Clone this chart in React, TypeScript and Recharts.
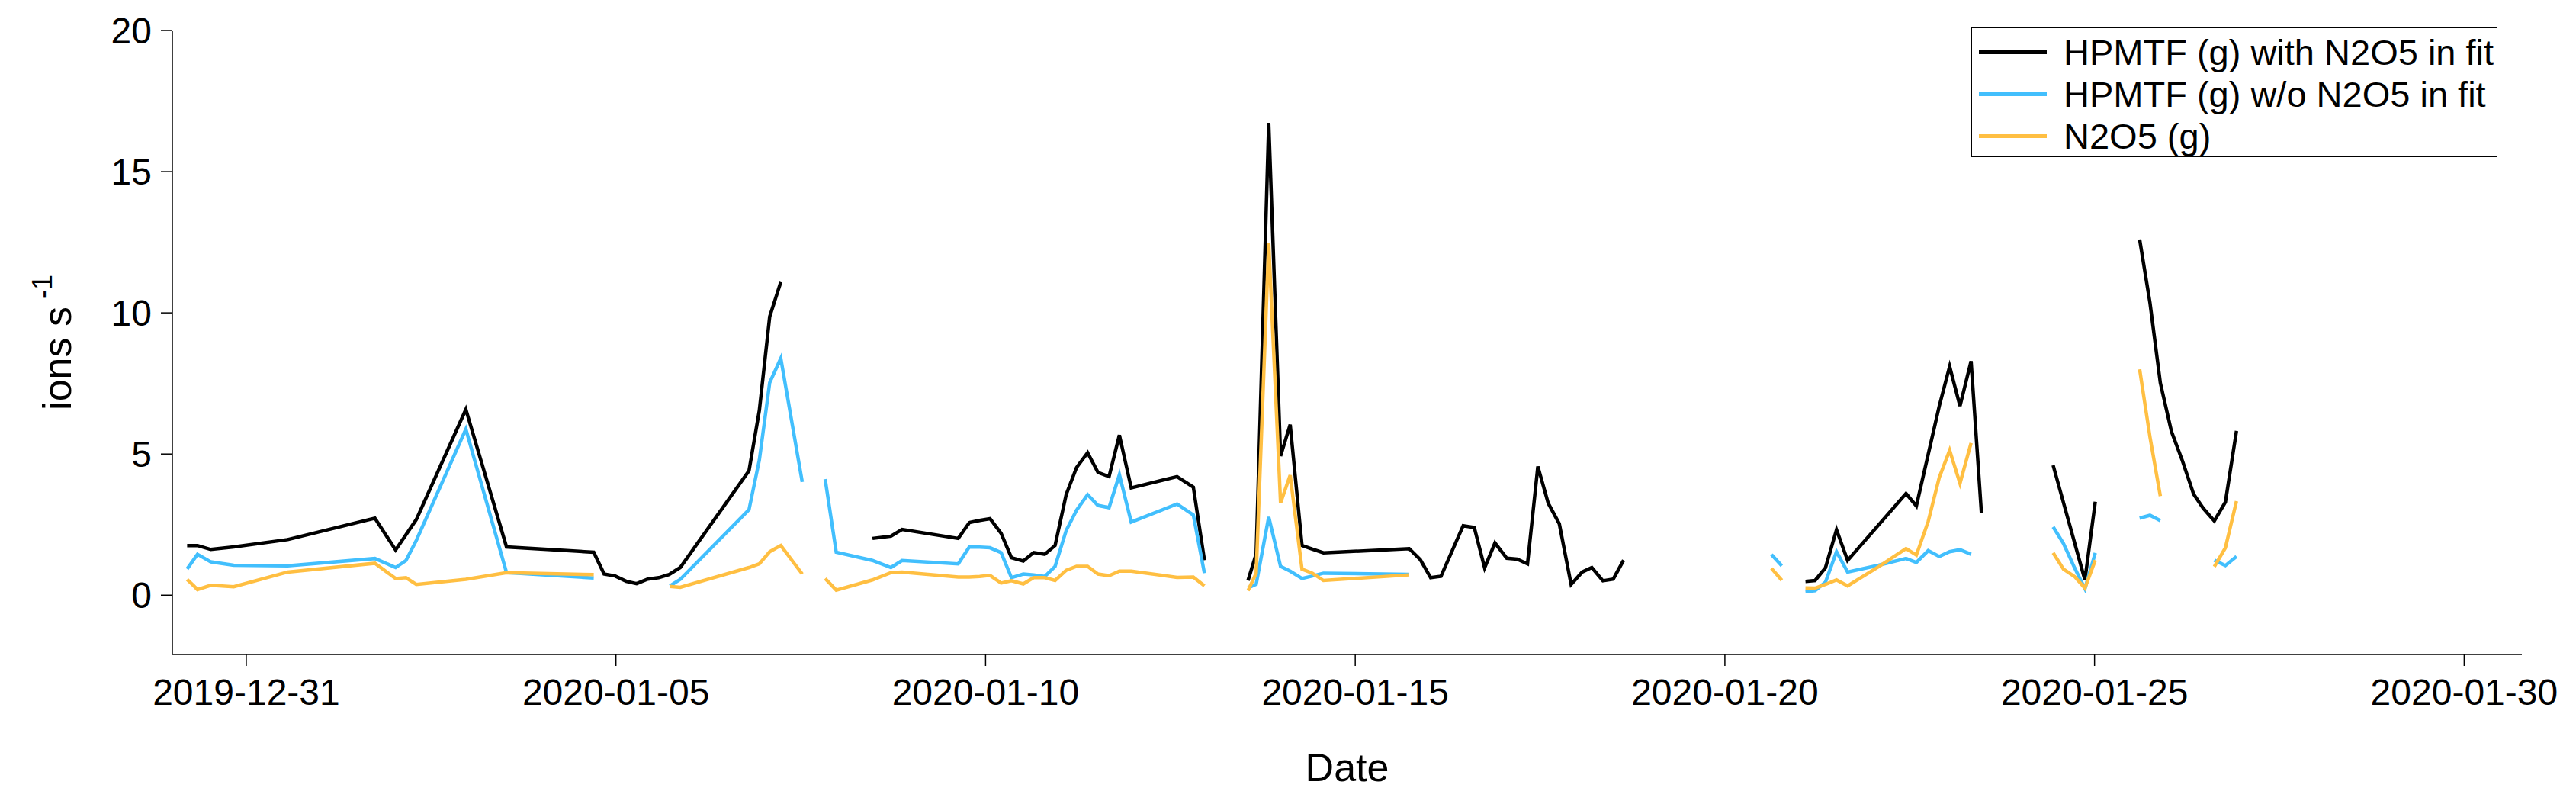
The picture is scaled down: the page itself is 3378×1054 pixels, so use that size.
import React from 'react';
import { LineChart, Line, XAxis, YAxis, Label } from 'recharts';

// time axis: days since 2019-12-31 00:00, null = gap in the record
const tWith = [
  -0.8, -0.66, -0.48, -0.17, 0.56, 1.74, 2.02, 2.3, 2.97, 3.52, 4.7, 4.84, 4.99, 5.14, 5.28, 5.43, 5.58, 5.72, 5.87,
  6.8, 6.94, 7.08, 7.23, 7.8, 8.47, 8.72, 8.87, 9.63, 9.78, 9.92, 10.06, 10.21, 10.35, 10.51, 10.65, 10.8, 10.94,
  11.09, 11.23, 11.38, 11.52, 11.67, 11.81, 11.97, 12.59, 12.81, 12.96, 13.25, 13.55, 13.66, 13.83, 13.99, 14.12,
  14.28, 14.42, 14.57, 15.73, 15.88, 16.02, 16.16, 16.46, 16.61, 16.75, 16.89, 17.05, 17.19, 17.33, 17.47, 17.61,
  17.76, 17.92, 18.07, 18.2, 18.35, 18.49, 18.63, 19.8, 21.09, 21.22, 21.36, 21.51, 21.66, 22.45, 22.59, 22.9, 23.04,
  23.18, 23.33, 23.47, 24.0, 24.44, 24.87, 25.01, 25.3, 25.61, 25.75, 25.89, 26.04, 26.19, 26.34, 26.47, 26.62,
  26.77, 26.92,
];
const vWith = [
  1.76, 1.76, 1.62, 1.71, 1.97, 2.73, 1.6, 2.68, 6.58, 1.71, 1.52, 0.75, 0.68, 0.49, 0.41, 0.57, 0.62, 0.73, 0.98,
  4.41, 6.55, 9.87, 11.09, null, 2.01, 2.09, 2.33, 2.01, 2.57, 2.65, 2.71, 2.19, 1.33, 1.21, 1.51, 1.45, 1.76,
  3.56, 4.52, 5.05, 4.35, 4.2, 5.67, 3.8, 4.2, 3.83, 1.24, null, 0.52, 1.46, 16.73, 4.93, 6.04,
  1.76, 1.63, 1.5, 1.65, 1.26, 0.62, 0.67, 2.46, 2.4, 0.97, 1.85, 1.31, 1.28, 1.11, 4.56, 3.26,
  2.53, 0.38, 0.82, 0.98, 0.51, 0.57, 1.24, null, 0.49, 0.52, 0.97, 2.32, 1.23, 3.6, 3.16, 6.7, 8.1,
  6.7, 8.29, 2.9, null, 4.6, 0.54, 3.31, null, 12.6, 10.35, 7.52, 5.8, 4.75, 3.58, 3.08, 2.63,
  3.3, 5.82,
];

const tWithout = [
  -0.8, -0.66, -0.48, -0.17, 0.56, 1.74, 2.02, 2.16, 2.3, 2.97, 3.52, 4.7, 5.2, 5.73, 5.87, 6.8, 6.94, 7.08, 7.23,
  7.52, 7.68, 7.83, 7.98, 8.47, 8.72, 8.87, 9.63, 9.78, 9.92, 10.06, 10.21, 10.35, 10.51, 10.65, 10.8, 10.94, 11.09,
  11.23, 11.38, 11.52, 11.67, 11.81, 11.97, 12.59, 12.81, 12.96, 13.25, 13.55, 13.66, 13.83, 13.99, 14.12, 14.28,
  14.42, 14.57, 15.73, 18.0, 20.63, 20.77, 20.9, 21.09, 21.22, 21.36, 21.51, 21.66, 22.08, 22.45, 22.59, 22.75,
  22.9, 23.04, 23.18, 23.33, 24.0, 24.44, 24.58, 24.73, 24.87, 25.01, 25.3, 25.61, 25.75, 25.89, 26.2, 26.62,
  26.77, 26.92,
];
const vWithout = [
  0.93, 1.45, 1.18, 1.06, 1.04, 1.3, 0.98, 1.23, 1.94, 5.88, 0.8, 0.61, null, 0.33, 0.56, 3.03, 4.79, 7.53, 8.39,
  4.01, null, 4.11, 1.52, 1.23, 0.98, 1.23, 1.11, 1.71, 1.7, 1.68, 1.51, 0.62, 0.75, 0.72, 0.66, 1.02, 2.29,
  3.01, 3.56, 3.18, 3.1, 4.27, 2.59, 3.23, 2.84, 0.78, null, 0.26, 0.39, 2.77, 1.02, 0.85, 0.59,
  0.68, 0.78, 0.74, null, 1.44, 1.04, null, 0.12, 0.16, 0.46, 1.54, 0.82, 1.06, 1.3, 1.16, 1.58,
  1.37, 1.54, 1.61, 1.45, null, 2.42, 1.83, 0.97, 0.23, 1.5, null, 2.73, 2.83, 2.64, null, 1.24,
  1.05, 1.37,
];

const tN2O5 = tWithout;
const vN2O5 = [
  0.56, 0.2, 0.35, 0.3, 0.82, 1.13, 0.59, 0.62, 0.38, 0.56, 0.8, 0.73, null, 0.31, 0.28, 0.98, 1.11, 1.54, 1.76,
  0.75, null, 0.59, 0.18, 0.54, 0.8, 0.82, 0.64, 0.64, 0.66, 0.7, 0.43, 0.51, 0.4, 0.62, 0.62, 0.52, 0.88,
  1.02, 1.02, 0.75, 0.69, 0.85, 0.85, 0.63, 0.64, 0.33, null, 0.16, 0.78, 12.46, 3.27, 4.25, 0.92,
  0.78, 0.52, 0.72, null, 0.95, 0.53, null, 0.26, 0.25, 0.38, 0.54, 0.33, 1.01, 1.65, 1.42, 2.61,
  4.17, 5.13, 3.96, 5.39, null, 1.5, 0.92, 0.66, 0.25, 1.24, null, 8.0, 5.6, 3.51, null, 1.01,
  1.68, 3.33,
];

const xTicks = [0, 5, 10, 15, 20, 25, 30];
const yTicks = [0, 5, 10, 15, 20];

const START = Date.UTC(2019, 11, 31);
const fmtDate = (d: number) => new Date(START + d * 86400000).toISOString().slice(0, 10);

const toPoints = (ts: number[], vs: (number | null)[]) => ts.map((t, i) => ({ t, v: vs[i] }));

const series = [
  { name: 'HPMTF (g) with N2O5 in fit', color: '#000000', data: toPoints(tWith, vWith) },
  { name: 'HPMTF (g) w/o N2O5 in fit', color: '#42BFFD', data: toPoints(tWithout, vWithout) },
  { name: 'N2O5 (g)', color: '#FFBF42', data: toPoints(tN2O5, vN2O5) },
];

const W = 3378;
const H = 1054;
const FONT = '"Liberation Sans", Arial, sans-serif';
const margin = { top: 40, right: 71, left: 76, bottom: 46 };
const Y_AXIS_W = 150;
const X_AXIS_H = 150;
const plotLeft = margin.left + Y_AXIS_W;
const plotRight = W - margin.right;
const plotTop = margin.top;
const plotBottom = H - margin.bottom - X_AXIS_H;

function ChartLegend() {
  return (
    <div
      style={{
        position: 'absolute',
        left: 2585,
        top: 36,
        width: 690,
        height: 170,
        border: '1.5px solid #000',
        background: '#fff',
        boxSizing: 'border-box',
        paddingTop: 4,
        fontFamily: FONT,
        fontSize: 47,
        color: '#000',
      }}
    >
      {series.map((s) => (
        <div key={s.name} style={{ display: 'flex', alignItems: 'center', height: 55 }}>
          <div style={{ marginLeft: 9, width: 89, height: 5, background: s.color }} />
          <span style={{ marginLeft: 22, whiteSpace: 'nowrap', lineHeight: '55px' }}>{s.name}</span>
        </div>
      ))}
    </div>
  );
}

export default function App() {
  const yMid = (plotTop + plotBottom) / 2;
  const xMid = (plotLeft + plotRight) / 2;
  return (
    <div style={{ position: 'relative', width: W, height: H, background: '#fff' }}>
      <style>{'body{margin:0;}'}</style>
      <LineChart width={W} height={H} margin={margin}>
        <XAxis
          dataKey="t"
          type="number"
          domain={[-1, 30.78]}
          ticks={xTicks}
          tickFormatter={fmtDate}
          allowDuplicatedCategory={false}
          height={X_AXIS_H}
          tickSize={15}
          tickMargin={17}
          stroke="#000"
          strokeWidth={1.5}
          tick={{ fill: '#000', fontSize: 48, fontFamily: FONT }}
        >
          <Label
            content={() => (
              <text x={xMid} y={1006} textAnchor="middle" dominantBaseline="central" fontSize={52} fontFamily={FONT} fill="#000">
                Date
              </text>
            )}
          />
        </XAxis>
        <YAxis
          type="number"
          domain={[-2.1, 20]}
          ticks={yTicks}
          width={Y_AXIS_W}
          tickSize={15}
          tickMargin={12}
          stroke="#000"
          strokeWidth={1.5}
          tick={{ fill: '#000', fontSize: 48, fontFamily: FONT }}
        >
          <Label
            content={() => (
              <text
                x={75}
                y={yMid}
                transform={`rotate(-90, 75, ${yMid})`}
                textAnchor="middle"
                dominantBaseline="central"
                fontSize={52}
                fontFamily={FONT}
                fill="#000"
              >
                ions s
                <tspan dx={10} dy={-20} fontSize={36}>-1</tspan>
              </text>
            )}
          />
        </YAxis>
        {series.map((s) => (
          <Line
            key={s.name}
            data={s.data}
            dataKey="v"
            name={s.name}
            type="linear"
            stroke={s.color}
            strokeWidth={4.5}
            dot={false}
            activeDot={false}
            connectNulls={false}
            isAnimationActive={false}
          />
        ))}
      </LineChart>
      <ChartLegend />
    </div>
  );
}
